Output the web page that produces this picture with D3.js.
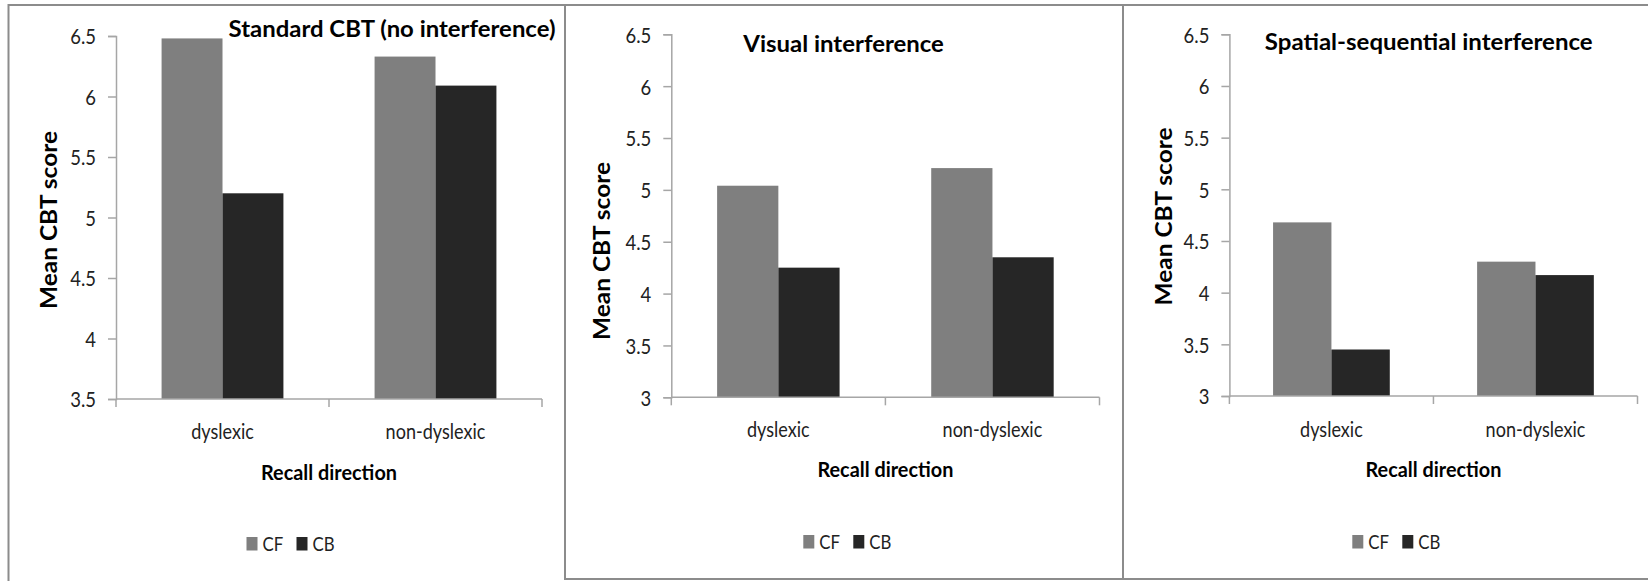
<!DOCTYPE html>
<html><head><meta charset="utf-8">
<script src="https://cdn.jsdelivr.net/npm/d3@7"></script>
<style>
html,body{margin:0;padding:0;background:#fff;}
svg{display:block;}
text{font-family:Lato,"Open Sans",sans-serif;}
</style></head><body>
<svg id="chart" width="1648" height="581"></svg>
<script>
// ---------- data ----------
const categories = ["dyslexic", "non-dyslexic"];
const seriesNames = ["CF", "CB"];
const panelTitles = ["Standard CBT (no interference)", "Visual interference", "Spatial-sequential interference"];
const standardCF = [6.48, 6.33];
const standardCB = [5.20, 6.09];
const visualCF = [5.04, 5.21];
const visualCB = [4.25, 4.35];
const spatialCF = [4.68, 4.30];
const spatialCB = [3.45, 4.17];
const ticksStandard = [3.5, 4, 4.5, 5, 5.5, 6, 6.5];
const ticksInterference = [3, 3.5, 4, 4.5, 5, 5.5, 6, 6.5];
const xAxisTitle = "Recall direction";
const yAxisTitle = "Mean CBT score";

// ---------- style / layout ----------
const colors = {CF: "#7f7f7f", CB: "#262626"};
const axisColor = "#a6a6a6";
const borderColor = "#8c8c8c";
const panels = [
  {title: panelTitles[0], cf: standardCF, cb: standardCB, ticks: ticksStandard,
   boxX: 8.5, boxR: 565, hasBottom: false,
   left: 116, right: 542, top: 36, bottom: 399,
   titleX: 228.6, titleW: 327, titleY: 37,
   yTitleX: 57, yTitleY: 220,
   catY: 439, xTitleY: 480, legX: 246.5, legY: 537},
  {title: panelTitles[1], cf: visualCF, cb: visualCB, ticks: ticksInterference,
   boxX: 565, boxR: 1123, hasBottom: true,
   left: 671.3, right: 1099.5, top: 34.3, bottom: 397.3,
   titleX: 743.3, titleW: 200.7, titleY: 52,
   yTitleX: 610, yTitleY: 251,
   catY: 437, xTitleY: 477, legX: 803.3, legY: 535},
  {title: panelTitles[2], cf: spatialCF, cb: spatialCB, ticks: ticksInterference,
   boxX: 1123, boxR: 1648, hasBottom: true,
   left: 1229.4, right: 1637.5, top: 34.3, bottom: 396,
   titleX: 1264.8, titleW: 328, titleY: 50,
   yTitleX: 1172, yTitleY: 216.5,
   catY: 437, xTitleY: 477, legX: 1352.3, legY: 535}
];

const svg = d3.select("#chart");

function addText(g, str, x, y, o) {
  const t = g.append("text").text(str)
    .attr("font-size", o.size)
    .attr("font-weight", o.bold ? 700 : 400)
    .attr("fill", o.fill || "#000")
    .attr("text-anchor", o.anchor || "start");
  if (o.dy) t.attr("dy", o.dy);
  let sx = o.sx || 1;
  if (o.width) sx = o.width / t.node().getComputedTextLength();
  const rot = o.rotate ? ` rotate(${o.rotate})` : "";
  t.attr("transform", `translate(${x},${y})${rot} scale(${sx},1)`);
  return t;
}

function draw() {
  // borders
  svg.append("line").attr("x1", 8).attr("x2", 1648).attr("y1", 5).attr("y2", 5)
    .attr("stroke", borderColor).attr("stroke-width", 2);
  panels.forEach(p => {
    svg.append("line").attr("x1", p.boxX).attr("x2", p.boxX).attr("y1", 4).attr("y2", p.hasBottom ? 580 : 581)
      .attr("stroke", borderColor).attr("stroke-width", 2);
    if (p.hasBottom) svg.append("line").attr("x1", p.boxX).attr("x2", p.boxR).attr("y1", 579).attr("y2", 579)
      .attr("stroke", borderColor).attr("stroke-width", 2);
  });

  panels.forEach(p => {
    const g = svg.append("g");
    const y = d3.scaleLinear().domain([p.ticks[0], p.ticks[p.ticks.length - 1]]).range([p.bottom, p.top]);
    const x0 = d3.scaleBand().domain(categories).range([p.left, p.right]).padding(0);
    const bw = x0.bandwidth();
    const x1 = d3.scaleBand().domain(seriesNames).range([bw * 0.214, bw * 0.786]).padding(0);
    const rows = categories.map((c, i) => ({cat: c, CF: p.cf[i], CB: p.cb[i]}));

    // bars
    g.selectAll("g.grp").data(rows).join("g")
      .attr("transform", d => `translate(${x0(d.cat)},0)`)
      .selectAll("rect").data(d => seriesNames.map(s => ({s, v: d[s]}))).join("rect")
      .attr("x", d => x1(d.s)).attr("width", x1.bandwidth())
      .attr("y", d => y(d.v)).attr("height", d => y(p.ticks[0]) - y(d.v))
      .attr("fill", d => colors[d.s]);

    // y axis
    const ya = g.append("g").attr("transform", `translate(${p.left},0)`)
      .call(d3.axisLeft(y).tickValues(p.ticks).tickSize(8).tickPadding(12).tickFormat(d => String(d)));
    ya.select(".domain").attr("stroke", axisColor).attr("stroke-width", 1.5);
    ya.selectAll(".tick line").attr("stroke", axisColor).attr("stroke-width", 1.5);
    ya.selectAll(".tick text").each(function () {
      const t = d3.select(this);
      const xx = +t.attr("x");
      t.attr("x", 0).attr("font-size", 22).attr("font-family", "Lato").attr("fill", "#222")
        .attr("dy", "0.36em").attr("transform", `translate(${xx},0) scale(0.84,1)`);
    });

    // x axis line and boundary ticks
    const xa = g.append("g");
    xa.append("line").attr("x1", p.left).attr("x2", p.right).attr("y1", p.bottom).attr("y2", p.bottom)
      .attr("stroke", axisColor).attr("stroke-width", 1.5);
    const bounds = categories.map(c => x0(c)).concat([x0(categories[categories.length - 1]) + bw]);
    xa.selectAll("line.tk").data(bounds).join("line").attr("class", "tk")
      .attr("x1", d => d).attr("x2", d => d).attr("y1", p.bottom).attr("y2", p.bottom + 8)
      .attr("stroke", axisColor).attr("stroke-width", 1.5);
    categories.forEach(c => addText(g, c, x0(c) + bw / 2, p.catY, {size: 21.5, anchor: "middle", sx: 0.84, fill: "#222"}));

    // titles
    addText(g, xAxisTitle, (p.left + p.right) / 2, p.xTitleY, {size: 21.5, bold: true, anchor: "middle", width: 136});
    addText(g, yAxisTitle, p.yTitleX, p.yTitleY, {size: 22, bold: true, anchor: "middle", rotate: -90, width: 178});
    addText(g, p.title, p.titleX, p.titleY, {size: 23, bold: true, width: p.titleW});

    // legend
    const lg = g.append("g").attr("transform", `translate(${p.legX},${p.legY})`);
    seriesNames.forEach((s, i) => {
      lg.append("rect").attr("x", i * 50).attr("y", 0).attr("width", 11).attr("height", 13.5).attr("fill", colors[s]);
      addText(lg, s, i * 50 + 16, 14, {size: 20, sx: 0.84, fill: "#222"});
    });
  });
}
if (document.fonts && document.fonts.ready) document.fonts.ready.then(draw); else draw();
</script>
</body></html>
